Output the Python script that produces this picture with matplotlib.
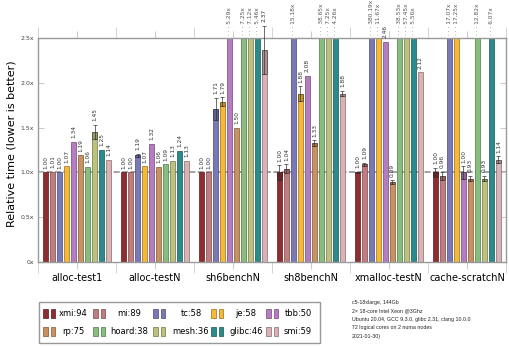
import numpy as np
import matplotlib.pyplot as plt
from matplotlib.patches import Rectangle
from matplotlib.colors import to_rgb

plt.rcParams['font.family'] = ['DejaVu Sans']

benchmarks = ['alloc-test1', 'alloc-testN', 'sh6benchN', 'sh8benchN',
              'xmalloc-testN', 'cache-scratchN']
allocators = ['xmi', 'mi', 'tc', 'je', 'tbb', 'rp', 'hoard', 'mesh', 'glibc', 'smi']
scores = [94, 89, 58, 58, 50, 75, 38, 36, 46, 59]
colors = ['#8f2c2f', '#c27b7e', '#7a79b8', '#f7b835', '#b67cc2',
          '#c8915f', '#85bf7b', '#bcc27c', '#2a8b8b', '#dab2b5']

# relative time per allocator, one entry per benchmark
xmi = [1.00, 1.00, 1.00, 1.00, 1.00, 1.00]
mi = [1.01, 1.00, 1.00, 1.04, 1.09, 0.96]
tc = [1.00, 1.19, 1.71, 15.18, 380.19, 17.07]
je = [1.07, 1.07, 1.79, 1.88, 11.67, 17.25]
tbb = [1.34, 1.32, 5.29, 2.08, 2.46, 1.00]
rp = [1.19, 1.06, 1.50, 1.33, 0.89, 0.93]
hoard = [1.06, 1.09, 7.25, 38.65, 38.53, 12.82]
mesh = [1.45, 1.13, 7.12, 7.25, 57.45, 0.93]
glibc = [1.25, 1.24, 5.46, 4.26, 5.56, 6.07]
smi = [1.14, 1.13, 2.37, 1.88, 2.12, 1.14]

# spread of the runs
xmi_err = [0.0, 0.0, 0.0, 0.08, 0.01, 0.05]
mi_err = [0.0, 0.0, 0.0, 0.05, 0.02, 0.05]
tc_err = [0.0, 0.02, 0.12, 0.0, 0.0, 0.0]
je_err = [0.0, 0.0, 0.05, 0.08, 0.0, 0.0]
tbb_err = [0.0, 0.0, 0.0, 0.0, 0.0, 0.07]
rp_err = [0.0, 0.0, 0.0, 0.03, 0.02, 0.03]
hoard_err = [0.0, 0.0, 0.0, 0.0, 0.0, 0.0]
mesh_err = [0.08, 0.0, 0.0, 0.0, 0.0, 0.03]
glibc_err = [0.0, 0.0, 0.0, 0.0, 0.0, 0.0]
smi_err = [0.0, 0.0, 0.27, 0.03, 0.0, 0.04]

values = [xmi, mi, tc, je, tbb, rp, hoard, mesh, glibc, smi]
errors = [xmi_err, mi_err, tc_err, je_err, tbb_err, rp_err, hoard_err,
          mesh_err, glibc_err, smi_err]

yticks = [0, 0.5, 1.0, 1.5, 2.0, 2.5]
ytick_labels = ['0x', '0.5x', '1.0x', '1.5x', '2.0x', '2.5x']
ymax = 2.5

W, H = 509, 346


def darker(c, f=0.6):
    r, g, b = to_rgb(c)
    return (r * f, g * f, b * f)


def px(x, y):
    # pixel position (from top left) -> figure fraction
    return x / W, 1 - y / H


fig = plt.figure(figsize=(W / 100, H / 100), dpi=100)
ax = fig.add_axes([0.0747, 0.2428, 0.9193, 0.6472])

n = len(allocators)
pitch = 0.0897
width = 0.068
x = np.arange(len(benchmarks))

ax.axhline(1.0, color='#8a8a8a', lw=1.1, ls=(0, (4, 1.5)), zorder=1)

for i, name in enumerate(allocators):
    pos = x + (i - (n - 1) / 2) * pitch
    ax.bar(pos, values[i], width, color=colors[i], edgecolor=darker(colors[i]),
           linewidth=0.5, zorder=2)
    for j in range(len(benchmarks)):
        v = values[i][j]
        e = errors[i][j]
        if v > ymax:
            ax.text(pos[j], ymax + 0.03, '· · · %.2fx' % v, rotation=90,
                    ha='center', va='bottom', fontsize=4.2, color='#555555',
                    clip_on=False)
            continue
        if e > 0:
            ax.add_patch(Rectangle((pos[j] - width / 2, v - e), width, e,
                                   facecolor=(0, 0, 0, 0.2),
                                   edgecolor=(0, 0, 0, 0.45), lw=0.4, zorder=3))
            ax.errorbar(pos[j], v, yerr=[[e], [e]], fmt='none', ecolor='#333333',
                        elinewidth=0.5, capsize=1.5, capthick=0.5, zorder=4,
                        clip_on=False)
        ax.text(pos[j], v + e + 0.04, '%.2f' % v, rotation=90, ha='center',
                va='bottom', fontsize=4.2, color='#333333', clip_on=False)

ax.set_ylim(0, ymax)
ax.set_xlim(-0.5, len(benchmarks) - 0.5)
ax.set_yticks(yticks)
ax.set_yticklabels(ytick_labels, fontsize=4.5, color='#444444')
ax.set_xticks(x)
ax.set_xticklabels(benchmarks, fontsize=7)
ax.set_xticks(np.arange(len(benchmarks) + 1) - 0.5, minor=True)
ax.tick_params(axis='x', which='both', direction='out', top=True, length=5,
               color='#cccccc', pad=3)
ax.tick_params(axis='x', which='minor', length=8)
ax.tick_params(axis='y', direction='in', right=True, length=4, color='#cccccc',
               pad=3)
ax.set_ylabel('Relative time (lower is better)', fontsize=8)
ax.yaxis.set_label_coords(-0.045, 0.53)
for s in ax.spines.values():
    s.set_color('#999999')
    s.set_linewidth(1.0)

# legend box drawn by hand: handles on the left, label centred in its column
x0, y0 = px(39, 343)
x1, y1 = px(320, 302)
fig.add_artist(Rectangle((x0, y0), x1 - x0, y1 - y0, transform=fig.transFigure,
                         facecolor='white', edgecolor='#999999', lw=1.0))
handle_x = [43, 93, 153, 211, 266]
label_cx = [73, 129, 191, 246, 298]
row_y = [313, 331]
for k, (name, sc, c) in enumerate(zip(allocators, scores, colors)):
    row, col = divmod(k, 5)
    cy = row_y[row]
    for dx in (0, 7.5):
        rx, ry = px(handle_x[col] + dx, cy + 4.5)
        rw = 4.5 / W
        rh = 9 / H
        fig.add_artist(Rectangle((rx, ry), rw, rh, transform=fig.transFigure,
                                 facecolor=c, edgecolor=darker(c), lw=0.5))
    tx, ty = px(label_cx[col], cy)
    fig.text(tx, ty, '%s:%d' % (name, sc), fontsize=6, ha='center',
             va='center')

info = ('c5-18xlarge, 144Gb\n'
        '2× 18-core Intel Xeon @3Ghz\n'
        'Ubuntu 20.04, GCC 9.3.0, glibc 2.31, clang 10.0.0\n'
        '72 logical cores on 2 numa nodes\n'
        '2021-01-30)')
fig.text(352 / W, 1 - 300 / H, info, fontsize=3.8, va='top', ha='left',
         linespacing=1.85, color='#222222', family='Liberation Sans')

fig.savefig('out.png', dpi=100)
